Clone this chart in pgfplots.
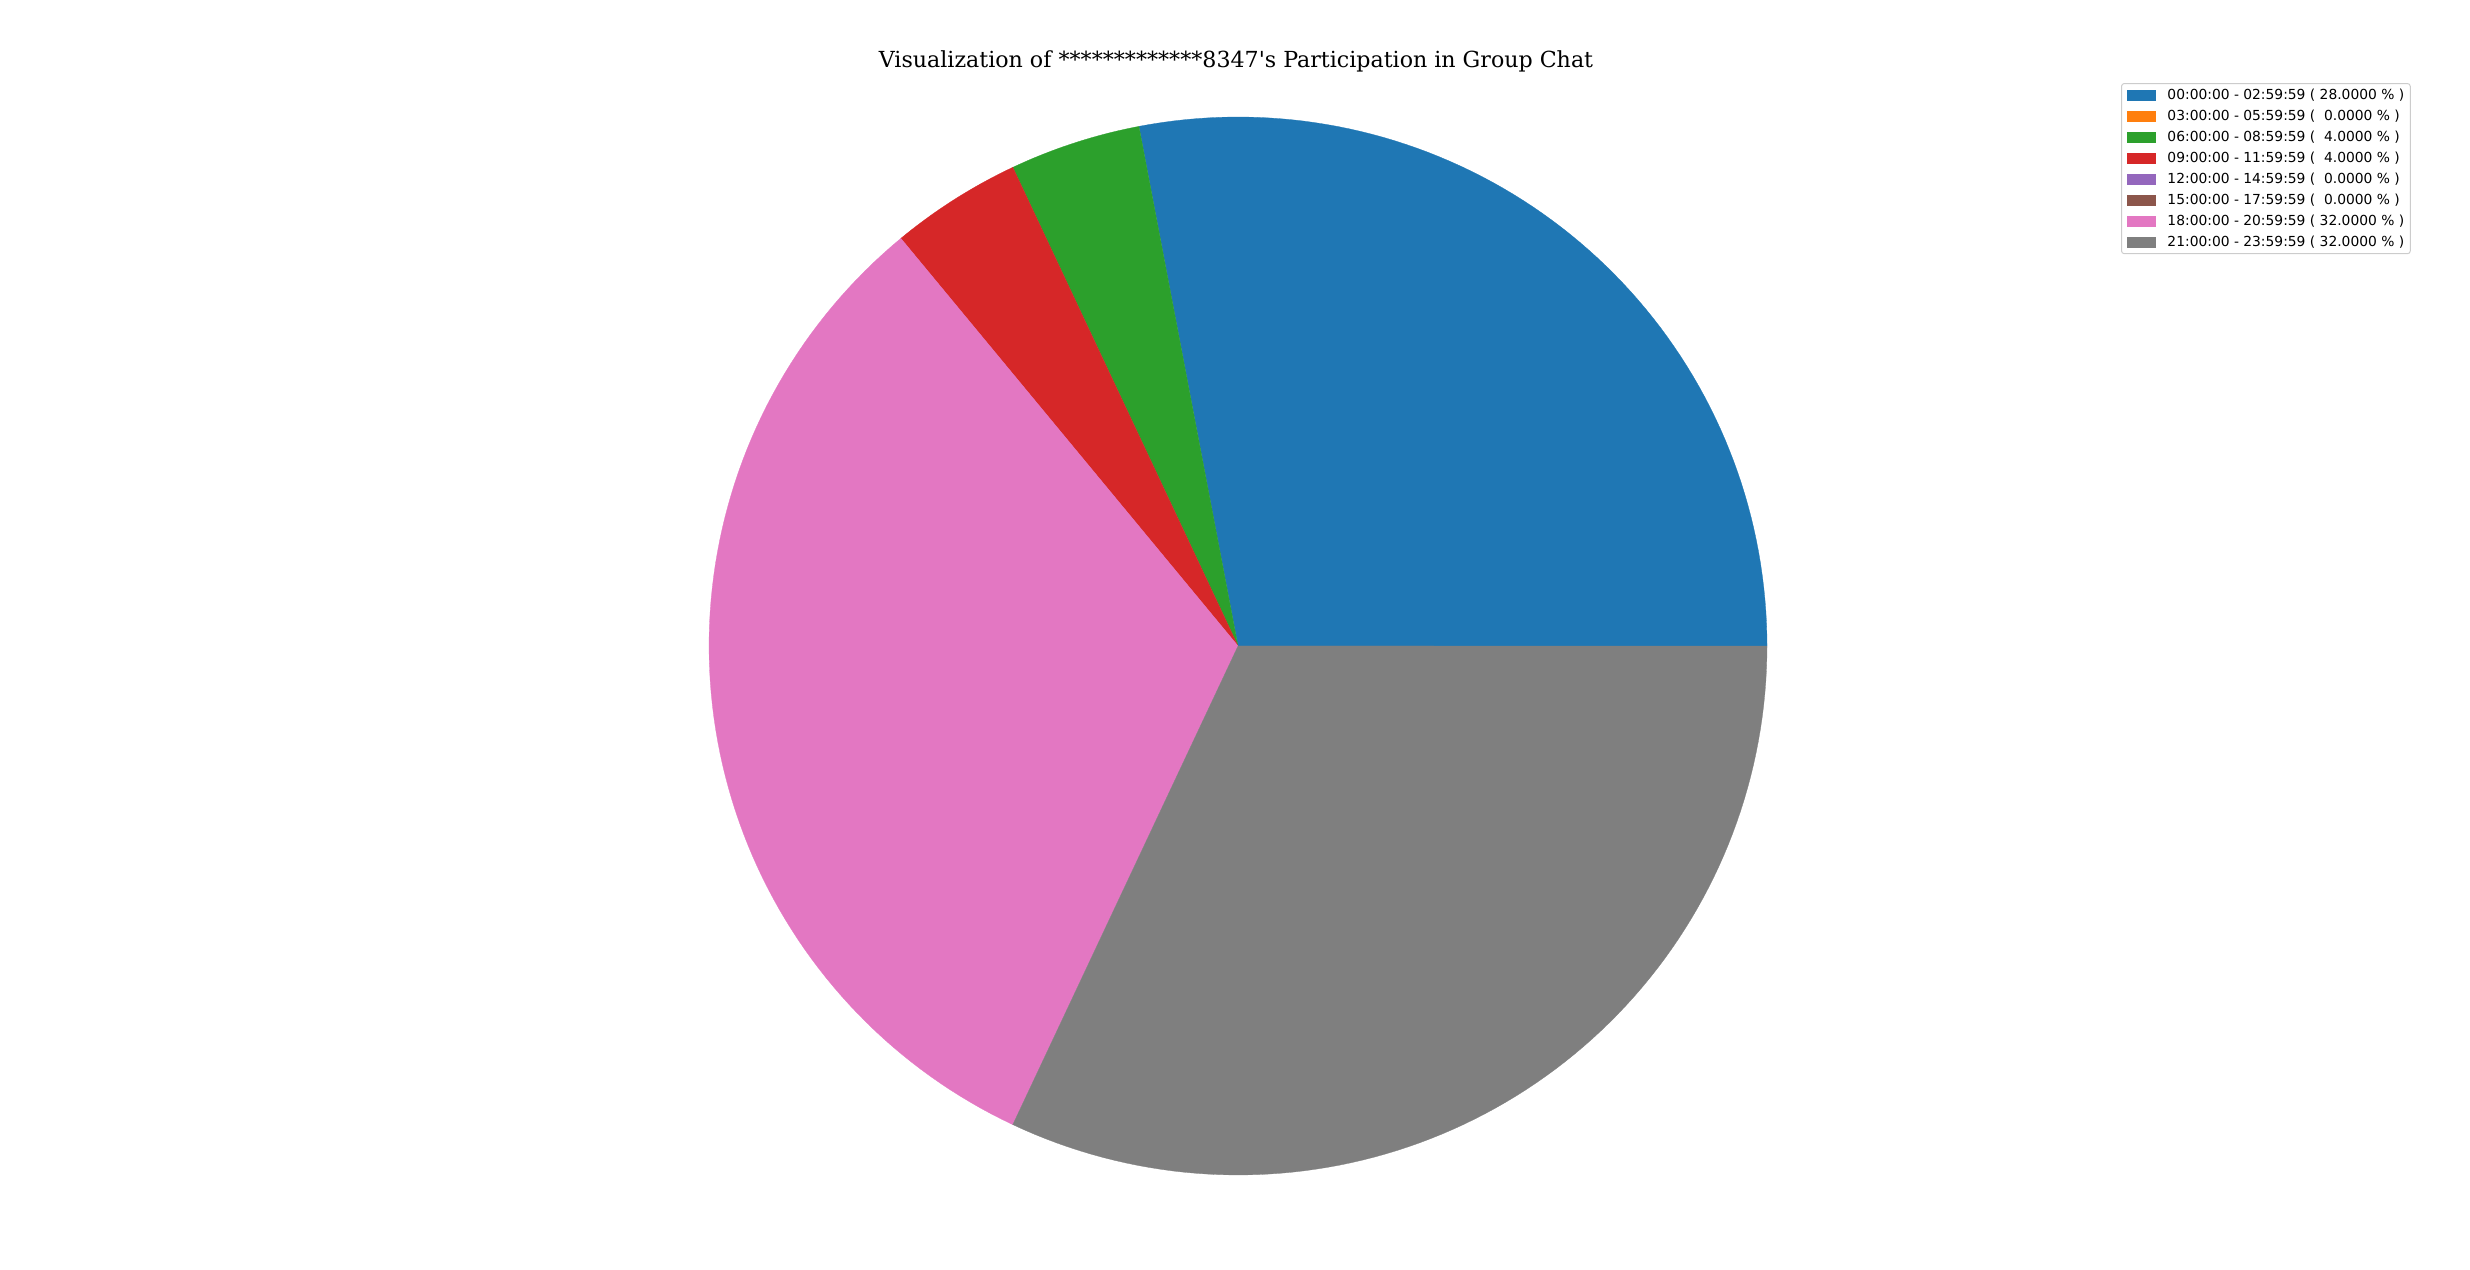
\documentclass[border=0pt]{standalone}
\usepackage{pgfplots}
\pgfplotsset{compat=1.18}
\usepackage{fontspec}
\setmainfont{DejaVu Sans}
\newfontfamily\titlefont{DejaVu Serif}

% matplotlib tab10
\definecolor{c0}{HTML}{1F77B4}
\definecolor{c1}{HTML}{FF7F0E}
\definecolor{c2}{HTML}{2CA02C}
\definecolor{c3}{HTML}{D62728}
\definecolor{c4}{HTML}{9467BD}
\definecolor{c5}{HTML}{8C564B}
\definecolor{c6}{HTML}{E377C2}
\definecolor{c7}{HTML}{7F7F7F}
\definecolor{legframe}{HTML}{CCCCCC}

% pie centre and radius in pixel units of the 2470x1270 canvas
\def\cx{1238}
\def\cy{624}
\def\rr{529}

\newcommand\legbox[1]{\addlegendimage{legend image code/.code={\fill[#1, sharp corners] (0pt,-3.6pt) rectangle (20.2pt,3.6pt);}}}

\begin{document}
\begin{tikzpicture}
\useasboundingbox (0,0) rectangle (24.7in,12.7in);
\begin{axis}[
    at={(0,0)}, anchor=south west,
    scale only axis,
    width=24.7in, height=12.7in,
    xmin=0, xmax=2470, ymin=0, ymax=1270,
    hide axis,
    title={\titlefont\fontsize{16}{19}\selectfont Visualization of *************8347's Participation in Group Chat},
    title style={at={(rel axis cs:0.5004,0.9400)}, anchor=base, inner sep=0pt},
    legend cell align=left,
    legend style={
        at={(rel axis cs:0.9760,0.9346)}, anchor=north east,
        draw=legframe, rounded corners=2pt, line width=0.7pt,
        font=\fontsize{10}{12}\selectfont,
        inner xsep=4.3pt, inner ysep=3.8pt,
        row sep=6.2pt, column sep=8pt,
        nodes={inner sep=0pt, text height=7.6pt, text depth=1.4pt, anchor=west},
    },
]
% slices: cumulative percentages 0-28-28-32-36-36-36-68-100
\addplot[fill=c0, draw=c0, line width=0.2pt, domain=0:28, samples=80, variable=\t, forget plot]
    ({\cx+\rr*cos(3.6*\t)}, {\cy+\rr*sin(3.6*\t)}) -- (axis cs:\cx,\cy) -- cycle;
\addplot[fill=c2, draw=c2, line width=0.2pt, domain=28:32, samples=20, variable=\t, forget plot]
    ({\cx+\rr*cos(3.6*\t)}, {\cy+\rr*sin(3.6*\t)}) -- (axis cs:\cx,\cy) -- cycle;
\addplot[fill=c3, draw=c3, line width=0.2pt, domain=32:36, samples=20, variable=\t, forget plot]
    ({\cx+\rr*cos(3.6*\t)}, {\cy+\rr*sin(3.6*\t)}) -- (axis cs:\cx,\cy) -- cycle;
\addplot[fill=c6, draw=c6, line width=0.2pt, domain=36:68, samples=90, variable=\t, forget plot]
    ({\cx+\rr*cos(3.6*\t)}, {\cy+\rr*sin(3.6*\t)}) -- (axis cs:\cx,\cy) -- cycle;
\addplot[fill=c7, draw=c7, line width=0.2pt, domain=68:100, samples=90, variable=\t, forget plot]
    ({\cx+\rr*cos(3.6*\t)}, {\cy+\rr*sin(3.6*\t)}) -- (axis cs:\cx,\cy) -- cycle;

\legbox{c0}\addlegendentry{00:00:00 - 02:59:59 ( 28.0000 \% )}
\legbox{c1}\addlegendentry{03:00:00 - 05:59:59 (\ \ 0.0000 \% )}
\legbox{c2}\addlegendentry{06:00:00 - 08:59:59 (\ \ 4.0000 \% )}
\legbox{c3}\addlegendentry{09:00:00 - 11:59:59 (\ \ 4.0000 \% )}
\legbox{c4}\addlegendentry{12:00:00 - 14:59:59 (\ \ 0.0000 \% )}
\legbox{c5}\addlegendentry{15:00:00 - 17:59:59 (\ \ 0.0000 \% )}
\legbox{c6}\addlegendentry{18:00:00 - 20:59:59 ( 32.0000 \% )}
\legbox{c7}\addlegendentry{21:00:00 - 23:59:59 ( 32.0000 \% )}
\end{axis}
\end{tikzpicture}
\end{document}
